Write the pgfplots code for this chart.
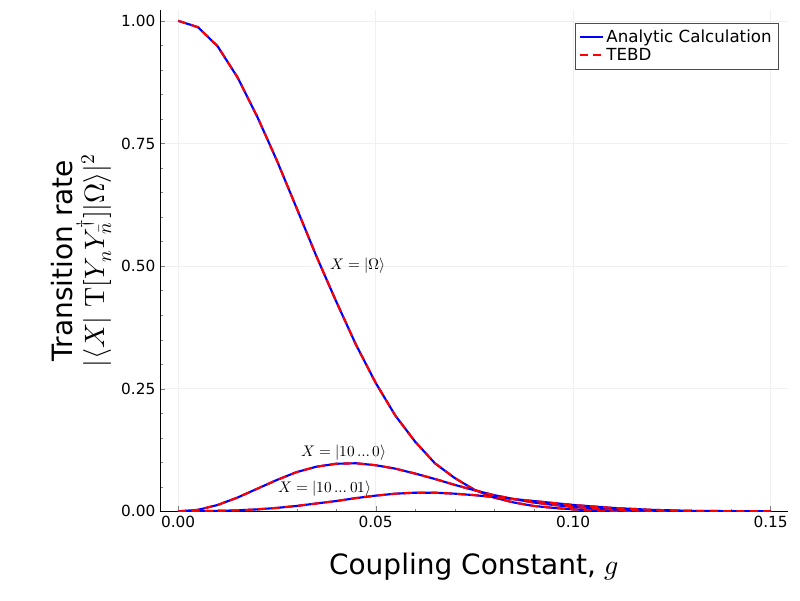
\documentclass[border=0pt]{standalone}
\usepackage{pgfplots}
\pgfplotsset{compat=1.18}
\usepackage{fontspec}
\setmainfont{DejaVu Sans}
\usepackage{unicode-math}
\setmathfont{Latin Modern Math}
\begin{document}
\begin{tikzpicture}
\pgfplotstableread{
x a b c
0 1 0 0
0.005 0.987 0.003 0.0002
0.01 0.948 0.013 0.001
0.015 0.885 0.028 0.002
0.02 0.805 0.046 0.004
0.025 0.715 0.064 0.007
0.03 0.618 0.080 0.011
0.035 0.520 0.091 0.016
0.04 0.428 0.097 0.021
0.045 0.340 0.098 0.027
0.05 0.262 0.094 0.032
0.055 0.195 0.087 0.036
0.06 0.142 0.077 0.038
0.065 0.098 0.066 0.038
0.07 0.068 0.054 0.036
0.075 0.044 0.043 0.033
0.08 0.028 0.033 0.029
0.085 0.018 0.025 0.025
0.09 0.011 0.018 0.021
0.095 0.007 0.013 0.017
0.1 0.004 0.009 0.013
0.105 0.002 0.006 0.010
0.11 0.001 0.004 0.007
0.115 0.0005 0.002 0.005
0.12 0.0002 0.001 0.003
0.125 0.0001 0.0005 0.002
0.13 0 0.0002 0.001
0.14 0 0 0.0004
0.15 0 0 0.0001
}\data
\begin{axis}[
  scale only axis, width=471pt, height=376pt,
  xmin=-0.0046, xmax=0.1544, ymin=0, ymax=1.022,
  axis lines=left, axis line style={-, black},
  xtick={0,0.05,0.10,0.15}, xticklabels={0.00,0.05,0.10,0.15},
  ytick={0,0.25,0.5,0.75,1}, yticklabels={0.00,0.25,0.50,0.75,1.00},
  minor x tick num=4, minor y tick num=4,
  tick align=inside, major tick length=4pt, minor tick length=2pt,
  grid=major, major grid style={black!6},
  ticklabel style={font=\fontsize{11.5}{13}\selectfont},
  xlabel={Coupling Constant, $g$},
  xlabel style={font=\fontsize{21}{24}\selectfont, yshift=-12pt},
  ylabel={\shortstack{Transition rate\\$|\langle X|\ \symup{T}[Y_n Y^{\dagger}_{\bar n}]|\Omega\rangle|^2$}},
  ylabel style={font=\fontsize{21}{25}\selectfont, yshift=0pt},
  legend style={at={(0.985,0.975)}, anchor=north east, font=\fontsize{12.5}{14}\selectfont, draw=black!70, row sep=-1pt, inner sep=3pt},
  legend cell align=left,
  legend image post style={line width=1.6pt},
]
\addplot[blue, line width=1.6pt] table[x=x,y=a]{\data};
\addlegendentry{Analytic Calculation}
\addplot[red, line width=1.6pt, dash pattern=on 6pt off 4pt] table[x=x,y=a]{\data};
\addlegendentry{TEBD}
\addplot[blue, line width=1.6pt, forget plot] table[x=x,y=b]{\data};
\addplot[red, line width=1.6pt, dash pattern=on 6pt off 4pt, forget plot] table[x=x,y=b]{\data};
\addplot[blue, line width=1.6pt, forget plot] table[x=x,y=c]{\data};
\addplot[red, line width=1.6pt, dash pattern=on 6pt off 4pt, forget plot] table[x=x,y=c]{\data};
\node[font=\fontsize{11.5}{13}\selectfont] at (axis cs:0.0456,0.5) {$X=|\Omega\rangle$};
\node[font=\fontsize{11.5}{13}\selectfont] at (axis cs:0.042,0.12) {$X=|10\ldots0\rangle$};
\node[font=\fontsize{11.5}{13}\selectfont] at (axis cs:0.0372,0.047) {$X=|10\ldots01\rangle$};
\end{axis}
\path (current axis.south west) ++(-120pt,-66.75pt) coordinate (bl);
\path (current axis.north east) ++(9pt,7.5pt) coordinate (tr);
\useasboundingbox (bl) rectangle (tr);
\end{tikzpicture}
\end{document}
